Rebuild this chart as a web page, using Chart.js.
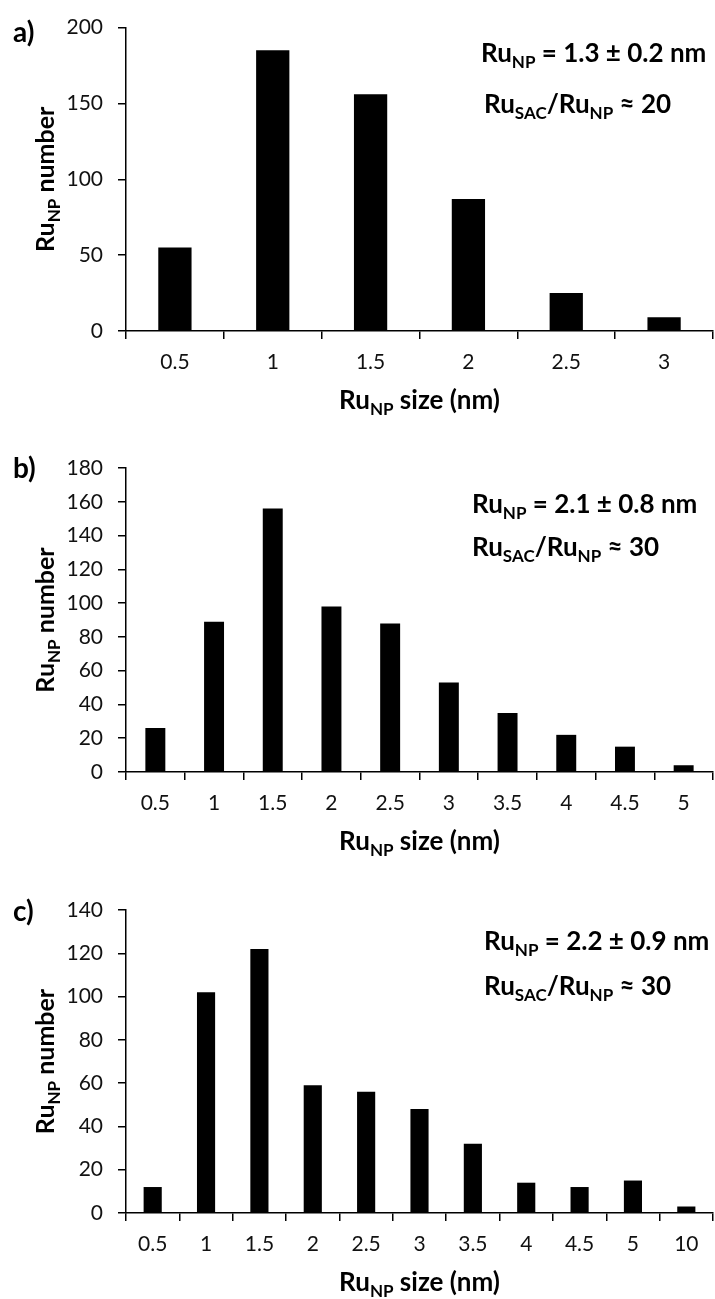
<!DOCTYPE html>
<html>
<head>
<meta charset="utf-8">
<script src="https://cdn.jsdelivr.net/npm/chart.js@4.4.0/dist/chart.umd.min.js"></script>
<style>
body { margin: 0; background: #fff; }
.panel { position: absolute; left: 0; width: 715px; }
</style>
</head>
<body>
<div class="panel" style="top:0px;height:420px"><canvas id="chartA" width="715" height="420"></canvas></div>
<div class="panel" style="top:420px;height:440px"><canvas id="chartB" width="715" height="440"></canvas></div>
<div class="panel" style="top:860px;height:439px"><canvas id="chartC" width="715" height="439"></canvas></div>
<script>
// particle size bins (nm) and counts for each sample
var sizesA = ['0.5', '1', '1.5', '2', '2.5', '3'];
var countsA = [55, 185, 156, 87, 25, 9];

var sizesB = ['0.5', '1', '1.5', '2', '2.5', '3', '3.5', '4', '4.5', '5'];
var countsB = [26, 89, 156, 98, 88, 53, 35, 22, 15, 4];

var sizesC = ['0.5', '1', '1.5', '2', '2.5', '3', '3.5', '4', '4.5', '5', '10'];
var countsC = [12, 102, 122, 59, 56, 48, 32, 14, 12, 15, 3];

var FONT = 'Lato';

// text pieces: [text] or [text, 'sub']
var ruNP = [['Ru'], ['NP', 'sub']];
var yTitle = ruNP.concat([[' number']]);
var xTitle = ruNP.concat([[' size (nm)']]);

function meanLine(txt) { return ruNP.concat([[' = ' + txt]]); }
function ratioLine(txt) { return [['Ru'], ['SAC', 'sub'], ['/Ru'], ['NP', 'sub'], [' \u2248 ' + txt]]; }

function richWidth(ctx, parts, size) {
    var w = 0;
    parts.forEach(function (p) {
        var s = p[1] === 'sub' ? Math.round(size * 0.66) : size;
        ctx.font = 'bold ' + s + 'px ' + FONT;
        w += ctx.measureText(p[0]).width;
    });
    return w;
}

function drawRich(ctx, parts, x, y, size) {
    var cx = x;
    ctx.textAlign = 'left';
    ctx.textBaseline = 'alphabetic';
    parts.forEach(function (p) {
        var sub = p[1] === 'sub';
        var s = sub ? Math.round(size * 0.66) : size;
        ctx.font = 'bold ' + s + 'px ' + FONT;
        ctx.fillText(p[0], cx, sub ? y + size * 0.24 : y);
        cx += ctx.measureText(p[0]).width;
    });
}

var overlay = {
    id: 'overlay',
    afterDraw: function (chart, args, opts) {
        var ctx = chart.ctx;
        var area = chart.chartArea;
        ctx.save();
        ctx.fillStyle = '#000';

        // panel letter
        ctx.font = 'bold 28px ' + FONT;
        ctx.textAlign = 'left';
        ctx.textBaseline = 'middle';
        ctx.fillText(opts.letter, 13, opts.letterY);

        // x axis title
        var w = richWidth(ctx, xTitle, 26);
        drawRich(ctx, xTitle, (area.left + area.right) / 2 - w / 2, area.bottom + 78, 26);

        // y axis title
        ctx.save();
        ctx.translate(54, (area.top + area.bottom) / 2);
        ctx.rotate(-Math.PI / 2);
        w = richWidth(ctx, yTitle, 25);
        drawRich(ctx, yTitle, -w / 2, 0, 25);
        ctx.restore();

        // statistics
        opts.notes.forEach(function (n) {
            drawRich(ctx, n.parts, n.x, n.y, 26);
        });
        ctx.restore();
    }
};

function makeChart(id, labels, values, yMax, yStep, xHeight, top, extra) {
    var ctx = document.getElementById(id).getContext('2d');
    return new Chart(ctx, {
        type: 'bar',
        data: {
            labels: labels,
            datasets: [{
                data: values,
                backgroundColor: '#000',
                borderWidth: 0,
                categoryPercentage: 1,
                barPercentage: 0.34
            }]
        },
        options: {
            responsive: false,
            animation: false,
            layout: { padding: { top: top, right: 2, left: 0, bottom: 0 } },
            plugins: {
                legend: { display: false },
                tooltip: { enabled: false },
                overlay: extra
            },
            scales: {
                x: {
                    afterFit: function (scale) { scale.height = xHeight; },
                    grid: { drawOnChartArea: false, tickLength: 8, color: '#000', lineWidth: 1.5, offset: true },
                    border: { color: '#000', width: 1.5 },
                    ticks: { color: '#111', font: { family: FONT, size: 21 }, padding: 11, maxRotation: 0 }
                },
                y: {
                    min: 0,
                    max: yMax,
                    afterFit: function (scale) { scale.width = 126; },
                    grid: { drawOnChartArea: false, tickLength: 8, color: '#000', lineWidth: 1.5 },
                    border: { color: '#000', width: 1.5 },
                    ticks: { stepSize: yStep, color: '#111', font: { family: FONT, size: 21 }, padding: 15 }
                }
            }
        },
        plugins: [overlay]
    });
}

makeChart('chartA', sizesA, countsA, 200, 50, 89, 26, {
    letter: 'a)', letterY: 33,
    notes: [
        { parts: meanLine('1.3 \u00b1 0.2 nm'), x: 481, y: 62 },
        { parts: ratioLine('20'), x: 484, y: 113 }
    ]
});

makeChart('chartB', sizesB, countsB, 180, 20, 88, 48, {
    letter: 'b)', letterY: 49,
    notes: [
        { parts: meanLine('2.1 \u00b1 0.8 nm'), x: 472, y: 93 },
        { parts: ratioLine('30'), x: 472, y: 136 }
    ]
});

makeChart('chartC', sizesC, countsC, 140, 20, 86, 50, {
    letter: 'c)', letterY: 52,
    notes: [
        { parts: meanLine('2.2 \u00b1 0.9 nm'), x: 484, y: 90 },
        { parts: ratioLine('30'), x: 484, y: 135 }
    ]
});
</script>
</body>
</html>
